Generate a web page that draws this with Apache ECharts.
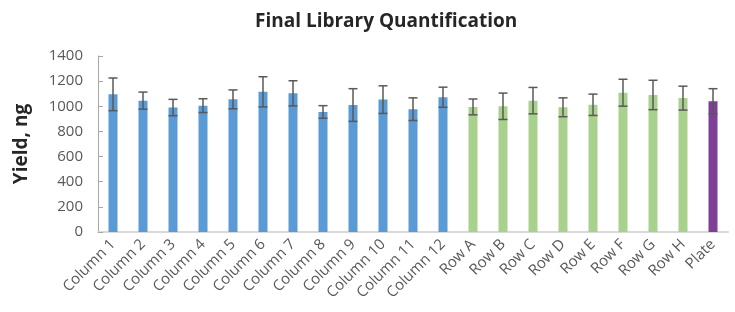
<!DOCTYPE html>
<html>
<head>
<meta charset="utf-8">
<script src="https://cdn.jsdelivr.net/npm/echarts@6/dist/echarts.min.js"></script>
<style>
html,body{margin:0;padding:0;background:#fff;}
#chart{width:735px;height:312px;}
</style>
</head>
<body>
<div id="chart"></div>
<script>
var titleText = 'Final Library Quantification';
var yAxisName = 'Yield, ng';
var categories = ['Column 1','Column 2','Column 3','Column 4','Column 5','Column 6','Column 7','Column 8','Column 9','Column 10','Column 11','Column 12','Row A','Row B','Row C','Row D','Row E','Row F','Row G','Row H','Plate'];
var yields = [1095,1045,990,1005,1055,1115,1103,955,1010,1053,977,1072,995,1000,1045,992,1012,1108,1090,1065,1040];
var errors = [130,68,65,55,75,120,100,50,130,110,90,80,63,105,105,75,85,107,117,95,100];
var yTicks = {min:0, max:1400, interval:200};

function colorFor(name){
  if (name.indexOf('Column') === 0) return '#5B9BD5';
  if (name.indexOf('Row') === 0) return '#A9D18E';
  return '#7F3F98';
}

var barData = yields.map(function(v,i){
  return {value:v, itemStyle:{color:colorFor(categories[i])}};
});
var errData = yields.map(function(v,i){ return [i, v - errors[i], v + errors[i]]; });

var chart = echarts.init(document.getElementById('chart'), null, {renderer:'canvas'});
chart.setOption({
  animation:false,
  backgroundColor:'#fff',
  title:{
    text:titleText, left:250, top:7,
    textStyle:{fontFamily:'Open Sans', fontWeight:'bold', fontSize:19, color:'#262626'}
  },
  grid:{left:98, right:7, top:56, bottom:80, containLabel:false},
  xAxis:{
    type:'category', data:categories, boundaryGap:true,
    axisLine:{show:true, lineStyle:{color:'#d9d9d9', width:2}},
    axisTick:{show:false},
    axisLabel:{rotate:45, margin:10, interval:0, color:'#595959', fontFamily:'Open Sans', fontSize:15}
  },
  yAxis:{
    type:'value', min:yTicks.min, max:yTicks.max, interval:yTicks.interval,
    name:yAxisName, nameLocation:'middle', nameRotate:90, nameGap:67,
    nameTextStyle:{fontFamily:'Open Sans', fontWeight:'bold', fontSize:19, color:'#262626'},
    axisLine:{show:true, lineStyle:{color:'#a6a6a6', width:1}},
    axisTick:{show:true, inside:true, length:5, lineStyle:{color:'#a6a6a6'}},
    splitLine:{show:false},
    axisLabel:{margin:15, color:'#595959', fontFamily:'Open Sans', fontSize:15,
      formatter:function(v){ return String(v); }}
  },
  series:[
    {type:'bar', data:barData, barWidth:9},
    {
      type:'custom', data:errData, z:10,
      encode:{x:0, y:[1,2]},
      renderItem:function(params, api){
        var x = api.value(0);
        var lo = api.coord([x, api.value(1)]);
        var hi = api.coord([x, api.value(2)]);
        var hw = 4.5;
        var st = {stroke:'#595959', lineWidth:1.5};
        return {type:'group', children:[
          {type:'line', shape:{x1:lo[0], y1:lo[1], x2:hi[0], y2:hi[1]}, style:st},
          {type:'line', shape:{x1:hi[0]-hw, y1:hi[1], x2:hi[0]+hw, y2:hi[1]}, style:st},
          {type:'line', shape:{x1:lo[0]-hw, y1:lo[1], x2:lo[0]+hw, y2:lo[1]}, style:st}
        ]};
      }
    }
  ]
});
</script>
</body>
</html>
